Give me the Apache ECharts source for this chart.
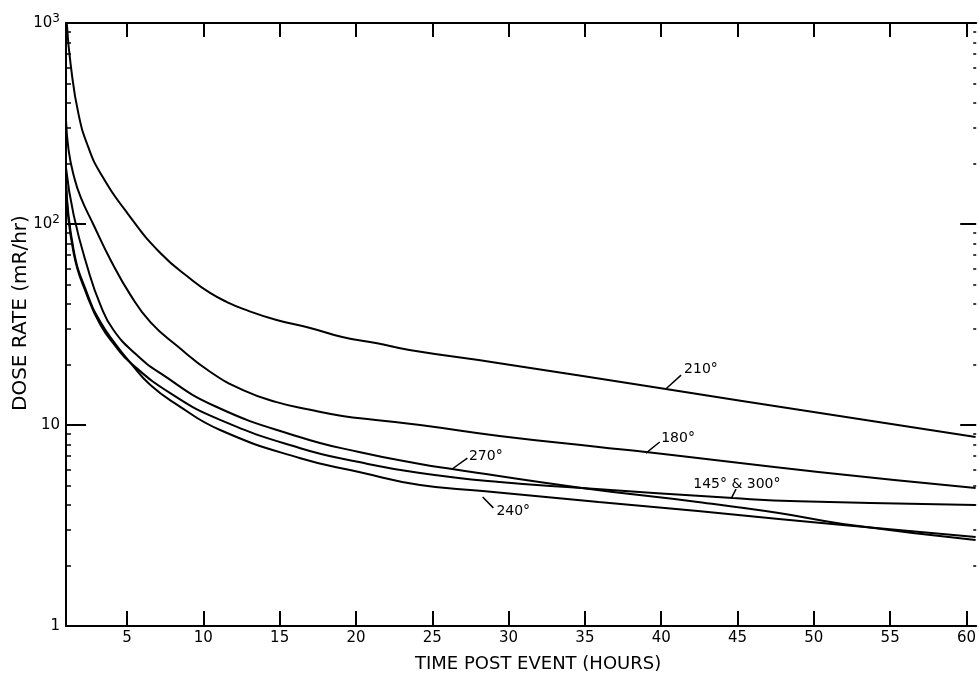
<!DOCTYPE html>
<html><head><meta charset="utf-8">
<script src="https://cdn.jsdelivr.net/npm/echarts@6/dist/echarts.min.js"></script>
<style>html,body{margin:0;padding:0;background:#fff}#c{width:979px;height:683px}</style>
</head><body><div id="c"></div>
<script>
// ---- data ----
const xTicks = [5,10,15,20,25,30,35,40,45,50,55,60];
const yLabels = [1,10,100,1000];
const yMajorTicks = [10,100];
const yMinorTicks = [2,3,4,5,6,7,8,9,20,30,40,50,60,70,80,90,200,300,400,500,600,700,800,900];

const h210 = [1.05,1.31,1.83,2.48,3.26,5.03,7.18,9.33,10.44,11.55,12.6,14.8,17.0,19.1,21.3,23.5,29.4,40.3,50.3,60.6];
const v210 = [1000,618,349,239,179,113,71.7,52.1,45.4,40.9,37.8,33.3,30.4,27.4,25.6,23.6,20.3,15.1,11.5,8.71];

const h180 = [1.0,1.17,1.5,1.96,2.81,3.92,5.22,6.53,8.29,10.44,12.6,14.8,17.0,19.1,21.3,24.2,29.4,35.9,39.0,50.3,60.6];
const v180 = [329,233,175,136,98.9,66.2,44.4,32.5,24.7,18.4,14.9,13.0,11.9,11.1,10.6,10.0,8.82,7.78,7.34,5.84,4.86];

const h270 = [1.0,1.5,2.42,3.26,4.11,5.55,7.18,10.77,16.3,20.2,24.2,26.3,34.8,42.4,47.7,51.9,60.6];
const v270 = [190,111,60.4,39.5,29.7,22.6,18.1,12.4,8.72,7.34,6.40,6.04,4.86,4.14,3.65,3.22,2.68];

const h145 = [1.0,1.5,2.42,3.26,4.24,5.22,7.83,11.1,16.3,20.2,24.2,29.4,34.8,44.7,49.0,60.6];
const v145 = [156,71.7,43.3,31.4,24.7,20.4,14.4,10.6,7.69,6.54,5.77,5.20,4.86,4.33,4.17,4.0];

const h240 = [1.0,1.5,2.42,3.26,4.24,5.22,6.53,8.29,11.1,16.3,20.2,24.2,28.3,35.9,42.4,47.7,51.9,60.6];
const v240 = [166,74.3,44.4,32.5,25.3,20.4,15.8,12.6,9.44,6.85,5.84,5.03,4.70,4.14,3.73,3.41,3.18,2.77];

// curve labels: [text, textX, textY, leaderX1, leaderY1, leaderX2, leaderY2]
const lbl210 = ['210°', 41.5, 19.0, 40.3, 15.1, 41.3, 17.7];
const lbl180 = ['180°', 40.0, 8.62, 39.0, 7.25, 39.9, 8.23];
const lbl270 = ['270°', 27.4, 7.01, 26.3, 6.04, 27.3, 6.85];
const lbl145 = ['145° & 300°', 42.1, 5.09, 44.6, 4.33, 44.9, 4.80];
const lbl240 = ['240°', 29.2, 3.73, 28.3, 4.38, 29.0, 3.87];

const FONT = 'DejaVu Sans';

function mk(name, hs, vs, lb) {
  return {
    name, type: 'line', xAxisIndex: 0, yAxisIndex: 0,
    data: hs.map((h, i) => [h, vs[i]]),
    showSymbol: false, symbol: 'none', smooth: 0.5,
    lineStyle: { color: '#000', width: 2 }, silent: true,
    markPoint: {
      symbol: 'circle', symbolSize: 0, silent: true,
      label: { show: true, position: [0, 0], align: 'left', verticalAlign: 'middle',
        color: '#000', fontFamily: FONT, fontSize: 14, formatter: lb[0] },
      data: [{ coord: [lb[1], lb[2]] }]
    },
    markLine: {
      symbol: ['none', 'none'], silent: true, label: { show: false },
      lineStyle: { color: '#000', width: 1.5, type: 'solid' },
      data: [[{ coord: [lb[3], lb[4]] }, { coord: [lb[5], lb[6]] }]]
    }
  };
}

const sup = { '1000': '3', '100': '2' };
const chart = echarts.init(document.getElementById('c'), null, { renderer: 'canvas' });
const axLine = { show: true, lineStyle: { color: '#000', width: 2 } };
const baseX = { type: 'value', min: 1, max: 60.64, splitLine: { show: false } };
const baseY = { type: 'log', logBase: 10, min: 1, max: 1000, splitLine: { show: false } };
chart.setOption({
  animation: false,
  backgroundColor: '#fff',
  grid: { left: 66, right: 0, top: 23, bottom: 57 },
  xAxis: [
    Object.assign({}, baseX, { position: 'bottom', axisLine: axLine,
      axisTick: { show: true, inside: true, length: 15, customValues: xTicks, lineStyle: { color: '#000', width: 2 } },
      axisLabel: { show: true, customValues: xTicks, color: '#000', fontFamily: FONT, fontSize: 15, margin: 5 } }),
    Object.assign({}, baseX, { position: 'top', axisLine: axLine,
      axisTick: { show: true, inside: true, length: 14, customValues: xTicks, lineStyle: { color: '#000', width: 2 } },
      axisLabel: { show: false } })
  ],
  yAxis: [
    Object.assign({}, baseY, { position: 'left', axisLine: axLine,
      axisTick: { show: true, inside: true, length: 20, customValues: yMajorTicks, lineStyle: { color: '#000', width: 2 } },
      axisLabel: { show: true, customValues: yLabels, color: '#000', fontFamily: FONT, fontSize: 15, margin: 6,
        formatter: v => sup[String(Math.round(v))] ? '{b|10}{s|' + sup[String(Math.round(v))] + '}' : '{b|' + Math.round(v) + '}',
        rich: { b: { fontFamily: FONT, fontSize: 15, color: '#000' }, s: { fontFamily: FONT, fontSize: 12, color: '#000', verticalAlign: 'top', padding: [0, 0, 8, 0] } } } }),
    Object.assign({}, baseY, { position: 'left', axisLine: { show: false },
      axisTick: { show: true, inside: true, length: 5, customValues: yMinorTicks, lineStyle: { color: '#000', width: 1.5 } },
      axisLabel: { show: false } }),
    Object.assign({}, baseY, { position: 'right', axisLine: { show: false },
      axisTick: { show: true, inside: true, length: 16, customValues: yMajorTicks, lineStyle: { color: '#000', width: 2 } },
      axisLabel: { show: false } }),
    Object.assign({}, baseY, { position: 'right', axisLine: { show: false },
      axisTick: { show: true, inside: true, length: 3, customValues: yMinorTicks, lineStyle: { color: '#000', width: 1.5 } },
      axisLabel: { show: false } })
  ],
  graphic: [
    { type: 'text', left: 415, top: 655, style: { text: 'TIME POST EVENT (HOURS)', fill: '#000', font: '18px "DejaVu Sans"' } },
    { type: 'text', x: 11, y: 411, rotation: Math.PI / 2, style: { text: 'DOSE RATE (mR/hr)', fill: '#000', font: '20px "DejaVu Sans"', textAlign: 'left', textVerticalAlign: 'top' } }
  ],
  series: [
    mk('210°', h210, v210, lbl210),
    mk('180°', h180, v180, lbl180),
    mk('270°', h270, v270, lbl270),
    mk('145° & 300°', h145, v145, lbl145),
    mk('240°', h240, v240, lbl240)
  ]
});
</script>
</body></html>
